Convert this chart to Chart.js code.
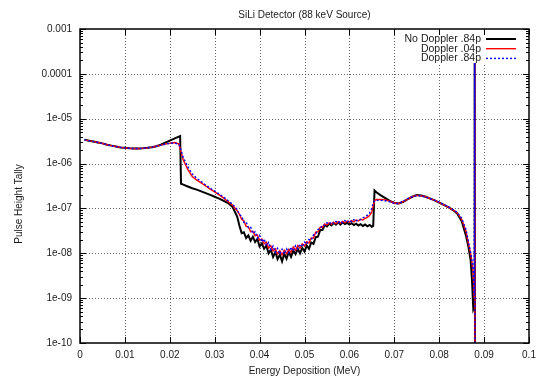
<!DOCTYPE html>
<html>
<head>
<meta charset="utf-8">
<title>SiLi Detector (88 keV Source)</title>
<script src="https://cdn.jsdelivr.net/npm/chart.js@4.4.1/dist/chart.umd.min.js"></script>
<style>
  html, body { margin: 0; padding: 0; background: #fff; }
  #wrap { width: 548px; height: 379px; }
</style>
</head>
<body>
<div id="wrap"><canvas id="tally" width="548" height="379"></canvas></div>
<script>
// energy bins (MeV), shared by all three tallies
const energy = [
  0.001, 0.002, 0.003, 0.004, 0.005, 0.006, 0.007, 0.008, 0.009, 0.010,
  0.011, 0.012, 0.013, 0.014, 0.015, 0.016, 0.017, 0.018, 0.019, 0.020,
  0.021, 0.022, 0.0223, 0.0225, 0.023, 0.024, 0.025, 0.026, 0.027, 0.028,
  0.029, 0.030, 0.031, 0.032, 0.033, 0.034, 0.035, 0.0355, 0.036, 0.0365,
  0.037, 0.0375, 0.038, 0.0385, 0.039, 0.0395, 0.040, 0.0405, 0.041, 0.0415,
  0.042, 0.0425, 0.043, 0.0435, 0.044, 0.0445, 0.045, 0.0455, 0.046, 0.0465,
  0.047, 0.0475, 0.048, 0.0485, 0.049, 0.0495, 0.050, 0.0505, 0.051, 0.0515,
  0.052, 0.0525, 0.053, 0.0535, 0.054, 0.0545, 0.055, 0.0555, 0.056, 0.0565,
  0.057, 0.0575, 0.058, 0.0585, 0.059, 0.0595, 0.060, 0.0605, 0.061, 0.0615,
  0.062, 0.0625, 0.063, 0.0635, 0.064, 0.0645, 0.065, 0.0653, 0.0656, 0.066,
  0.067, 0.068, 0.069, 0.070, 0.071, 0.072, 0.073, 0.074, 0.075, 0.076,
  0.077, 0.078, 0.079, 0.080, 0.081, 0.082, 0.083, 0.084, 0.085, 0.086,
  0.0865, 0.087, 0.0873, 0.0876, 0.0878, 0.0879, 0.0880
];

const noDoppler84 = [
  3.39e-6, 3.24e-6, 3.09e-6, 2.95e-6, 2.82e-6, 2.63e-6, 2.51e-6, 2.40e-6, 2.29e-6, 2.24e-6,
  2.19e-6, 2.16e-6, 2.16e-6, 2.19e-6, 2.24e-6, 2.32e-6, 2.43e-6, 2.63e-6, 2.92e-6, 3.24e-6,
  3.59e-6, 3.98e-6, 4.12e-6, 3.55e-7, 3.39e-7, 3.09e-7, 2.82e-7, 2.63e-7, 2.40e-7, 2.19e-7,
  2.00e-7, 1.82e-7, 1.66e-7, 1.48e-7, 1.32e-7, 1.07e-7, 6.61e-8, 4.17e-8, 2.82e-8, 2.95e-8,
  2.19e-8, 2.51e-8, 1.91e-8, 2.34e-8, 1.78e-8, 2.09e-8, 1.41e-8, 1.66e-8, 1.26e-8, 1.48e-8,
  1.00e-8, 1.20e-8, 8.32e-9, 1.07e-8, 7.41e-9, 9.33e-9, 6.61e-9, 9.77e-9, 7.59e-9, 1.07e-8,
  8.32e-9, 1.15e-8, 9.55e-9, 1.26e-8, 1.00e-8, 1.32e-8, 1.10e-8, 1.48e-8, 1.26e-8, 1.74e-8,
  1.62e-8, 2.29e-8, 2.34e-8, 3.31e-8, 3.31e-8, 4.27e-8, 3.98e-8, 4.57e-8, 4.17e-8, 4.79e-8,
  4.37e-8, 4.90e-8, 4.37e-8, 4.90e-8, 4.47e-8, 4.79e-8, 4.37e-8, 4.68e-8, 4.27e-8, 4.57e-8,
  4.17e-8, 4.47e-8, 4.07e-8, 4.37e-8, 3.98e-8, 4.27e-8, 3.89e-8, 4.07e-8, 2.51e-7, 2.29e-7,
  1.95e-7, 1.70e-7, 1.48e-7, 1.32e-7, 1.29e-7, 1.41e-7, 1.62e-7, 1.82e-7, 2.00e-7, 1.95e-7,
  1.82e-7, 1.66e-7, 1.51e-7, 1.35e-7, 1.20e-7, 1.07e-7, 9.33e-8, 7.76e-8, 5.25e-8, 2.40e-8,
  1.41e-8, 7.08e-9, 2.51e-9, 5.62e-10, 6.31e-10, 1.74e-4, 1e-12
];

const doppler04 = [
  3.39e-6, 3.24e-6, 3.09e-6, 2.95e-6, 2.82e-6, 2.63e-6, 2.51e-6, 2.40e-6, 2.29e-6, 2.24e-6,
  2.19e-6, 2.16e-6, 2.16e-6, 2.19e-6, 2.24e-6, 2.32e-6, 2.43e-6, 2.57e-6, 2.72e-6, 2.85e-6,
  2.95e-6, 2.75e-6, 2.19e-6, 1.82e-6, 1.20e-6, 7.41e-7, 5.13e-7, 4.27e-7, 3.72e-7, 3.16e-7,
  2.69e-7, 2.34e-7, 2.00e-7, 1.70e-7, 1.41e-7, 1.17e-7, 8.91e-8, 7.41e-8, 5.75e-8, 5.25e-8,
  3.98e-8, 3.89e-8, 3.02e-8, 3.09e-8, 2.45e-8, 2.57e-8, 1.95e-8, 2.09e-8, 1.62e-8, 1.78e-8,
  1.32e-8, 1.48e-8, 1.12e-8, 1.26e-8, 9.77e-9, 1.15e-8, 9.12e-9, 1.17e-8, 9.77e-9, 1.23e-8,
  1.05e-8, 1.38e-8, 1.17e-8, 1.48e-8, 1.29e-8, 1.62e-8, 1.45e-8, 1.82e-8, 1.70e-8, 2.19e-8,
  2.19e-8, 2.95e-8, 3.02e-8, 3.80e-8, 3.80e-8, 4.47e-8, 4.27e-8, 4.79e-8, 4.47e-8, 4.90e-8,
  4.57e-8, 5.01e-8, 4.68e-8, 5.13e-8, 4.79e-8, 5.25e-8, 4.90e-8, 5.37e-8, 5.01e-8, 5.50e-8,
  5.25e-8, 5.75e-8, 5.50e-8, 6.03e-8, 6.31e-8, 6.92e-8, 8.32e-8, 1.12e-7, 1.48e-7, 1.58e-7,
  1.58e-7, 1.55e-7, 1.45e-7, 1.32e-7, 1.29e-7, 1.41e-7, 1.62e-7, 1.82e-7, 1.95e-7, 1.91e-7,
  1.82e-7, 1.66e-7, 1.51e-7, 1.35e-7, 1.20e-7, 1.07e-7, 9.33e-8, 7.94e-8, 5.75e-8, 3.02e-8,
  1.66e-8, 1.00e-8, 6.31e-9, 3.16e-9, 1.00e-9, 1.74e-4, 1e-12
];

const doppler84 = [
  3.39e-6, 3.24e-6, 3.09e-6, 2.95e-6, 2.82e-6, 2.63e-6, 2.51e-6, 2.40e-6, 2.29e-6, 2.24e-6,
  2.19e-6, 2.16e-6, 2.16e-6, 2.19e-6, 2.24e-6, 2.32e-6, 2.43e-6, 2.57e-6, 2.69e-6, 2.82e-6,
  2.88e-6, 2.69e-6, 2.29e-6, 2.00e-6, 1.35e-6, 8.51e-7, 5.89e-7, 4.68e-7, 3.98e-7, 3.31e-7,
  2.82e-7, 2.45e-7, 2.09e-7, 1.78e-7, 1.48e-7, 1.23e-7, 9.55e-8, 7.24e-8, 6.76e-8, 4.90e-8,
  5.01e-8, 3.72e-8, 3.89e-8, 2.75e-8, 3.02e-8, 2.19e-8, 2.51e-8, 1.78e-8, 2.09e-8, 1.48e-8,
  1.74e-8, 1.20e-8, 1.45e-8, 1.05e-8, 1.29e-8, 9.55e-9, 1.23e-8, 9.55e-9, 1.26e-8, 1.02e-8,
  1.38e-8, 1.12e-8, 1.48e-8, 1.26e-8, 1.62e-8, 1.38e-8, 1.78e-8, 1.58e-8, 2.04e-8, 1.95e-8,
  2.57e-8, 2.69e-8, 3.39e-8, 3.55e-8, 4.27e-8, 4.17e-8, 4.79e-8, 4.47e-8, 5.01e-8, 4.57e-8,
  5.13e-8, 4.68e-8, 5.25e-8, 4.79e-8, 5.37e-8, 4.90e-8, 5.50e-8, 5.01e-8, 5.62e-8, 5.13e-8,
  5.75e-8, 5.62e-8, 6.17e-8, 6.46e-8, 7.08e-8, 7.94e-8, 1.00e-7, 1.32e-7, 1.48e-7, 1.51e-7,
  1.51e-7, 1.48e-7, 1.41e-7, 1.29e-7, 1.29e-7, 1.45e-7, 1.66e-7, 1.82e-7, 1.91e-7, 1.91e-7,
  1.78e-7, 1.66e-7, 1.51e-7, 1.38e-7, 1.23e-7, 1.10e-7, 9.55e-8, 8.13e-8, 6.03e-8, 3.31e-8,
  1.82e-8, 1.05e-8, 6.61e-9, 3.55e-9, 1.12e-9, 1.74e-4, 1e-12
];

const seriesNames = ['No Doppler .84p', 'Doppler .04p', 'Doppler .84p'];

const xTickValues = [0, 0.01, 0.02, 0.03, 0.04, 0.05, 0.06, 0.07, 0.08, 0.09, 0.1];
const xTickLabels = ['0', '0.01', '0.02', '0.03', '0.04', '0.05', '0.06', '0.07', '0.08', '0.09', '0.1'];
const yTickValues = [1e-3, 1e-4, 1e-5, 1e-6, 1e-7, 1e-8, 1e-9, 1e-10];
const yTickLabels = ['0.001', '0.0001', '1e-05', '1e-06', '1e-07', '1e-08', '1e-09', '1e-10'];

const FONT = '10px "Liberation Sans", Arial, sans-serif';
const KEY_FONT = '10.5px "Liberation Sans", Arial, sans-serif';
const TEXT = '#1a1a1a';

function toPoints(values) {
    return values.map((v, i) => ({ x: energy[i], y: v }));
}

function seg(ctx, x1, y1, x2, y2) {
    ctx.beginPath();
    ctx.moveTo(x1, y1);
    ctx.lineTo(x2, y2);
    ctx.stroke();
}

// gnuplot style frame: dotted grid, inward tics on all four sides, key at top right
const gnuplotFrame = {
    id: 'gnuplotFrame',
    beforeDatasetsDraw(chart) {
        const { ctx, chartArea: a, scales: { x, y } } = chart;
        ctx.save();
        ctx.strokeStyle = 'rgba(0,0,0,0.6)';
        ctx.lineWidth = 1;
        ctx.setLineDash([1, 2]);
        xTickValues.slice(1, -1).forEach(v => {
            const px = Math.round(x.getPixelForValue(v)) + 0.5;
            seg(ctx, px, a.top, px, a.bottom);
        });
        yTickValues.slice(1, -1).forEach(v => {
            const py = Math.round(y.getPixelForValue(v)) + 0.5;
            seg(ctx, a.left, py, a.right, py);
        });
        ctx.setLineDash([]);
        // key area hides the grid behind it
        ctx.fillStyle = '#fff';
        ctx.fillRect(400, a.top + 4, a.right - 400 - 8, 30);
        ctx.restore();
    },
    afterDatasetsDraw(chart) {
        const { ctx, chartArea: a, scales: { x, y } } = chart;
        ctx.save();
        ctx.strokeStyle = '#000';
        ctx.lineWidth = 1;
        const major = 6, minor = 3;
        xTickValues.forEach(v => {
            const px = Math.round(x.getPixelForValue(v)) + 0.5;
            seg(ctx, px, a.bottom, px, a.bottom - major);
            seg(ctx, px, a.top, px, a.top + major);
        });
        yTickValues.forEach(v => {
            const py = Math.round(y.getPixelForValue(v)) + 0.5;
            seg(ctx, a.left, py, a.left + major, py);
            seg(ctx, a.right, py, a.right - major, py);
        });
        yTickValues.slice(1).forEach(d => {
            for (let m = 2; m <= 9; m++) {
                const py = Math.round(y.getPixelForValue(d * m)) + 0.5;
                seg(ctx, a.left, py, a.left + minor, py);
                seg(ctx, a.right, py, a.right - minor, py);
            }
        });

        // border
        ctx.lineWidth = 1.5;
        ctx.strokeRect(a.left, a.top, a.right - a.left, a.bottom - a.top);

        // tick labels
        ctx.font = FONT;
        ctx.fillStyle = TEXT;
        ctx.textAlign = 'right';
        ctx.textBaseline = 'middle';
        yTickValues.forEach((v, i) => {
            ctx.fillText(yTickLabels[i], a.left - 8, y.getPixelForValue(v));
        });
        ctx.textAlign = 'center';
        xTickValues.forEach((v, i) => {
            ctx.fillText(xTickLabels[i], x.getPixelForValue(v), a.bottom + 12);
        });

        // titles
        ctx.fillText('SiLi Detector (88 keV Source)', (a.left + a.right) / 2, 15);
        ctx.fillText('Energy Deposition (MeV)', (a.left + a.right) / 2, 371);
        ctx.save();
        ctx.translate(19, 204);
        ctx.rotate(-Math.PI / 2);
        ctx.fillText('Pulse Height Tally', 0, 0);
        ctx.restore();

        // key
        ctx.font = KEY_FONT;
        const rows = [39, 48.7, 58.4];
        chart.data.datasets.forEach((ds, i) => {
            ctx.textAlign = 'right';
            ctx.fillStyle = TEXT;
            ctx.fillText(seriesNames[i], 481, rows[i]);
            ctx.strokeStyle = ds.borderColor;
            ctx.lineWidth = ds.borderWidth;
            ctx.setLineDash(ds.borderDash || []);
            seg(ctx, 486, rows[i], 516, rows[i]);
        });
        ctx.restore();
    }
};

const tallyChart = new Chart(document.getElementById('tally'), {
    type: 'line',
    data: {
        datasets: [
            {
                label: seriesNames[0],
                data: toPoints(noDoppler84),
                borderColor: '#000000',
                borderWidth: 2,
                order: 2
            },
            {
                label: seriesNames[1],
                data: toPoints(doppler04),
                borderColor: '#ff0000',
                borderWidth: 1.4,
                order: 1
            },
            {
                label: seriesNames[2],
                data: toPoints(doppler84),
                borderColor: '#0000ff',
                borderWidth: 1.4,
                borderDash: [2, 2],
                order: 0
            }
        ]
    },
    options: {
        responsive: false,
        animation: false,
        devicePixelRatio: 1,
        layout: { padding: { left: 80, right: 19, top: 29, bottom: 36 } },
        elements: {
            point: { radius: 0 },
            line: { tension: 0, fill: false }
        },
        scales: {
            x: { type: 'linear', min: 0, max: 0.1, display: false },
            y: { type: 'logarithmic', min: 1e-10, max: 1e-3, display: false }
        },
        plugins: {
            legend: { display: false },
            tooltip: { enabled: false }
        }
    },
    plugins: [gnuplotFrame]
});
</script>
</body>
</html>
